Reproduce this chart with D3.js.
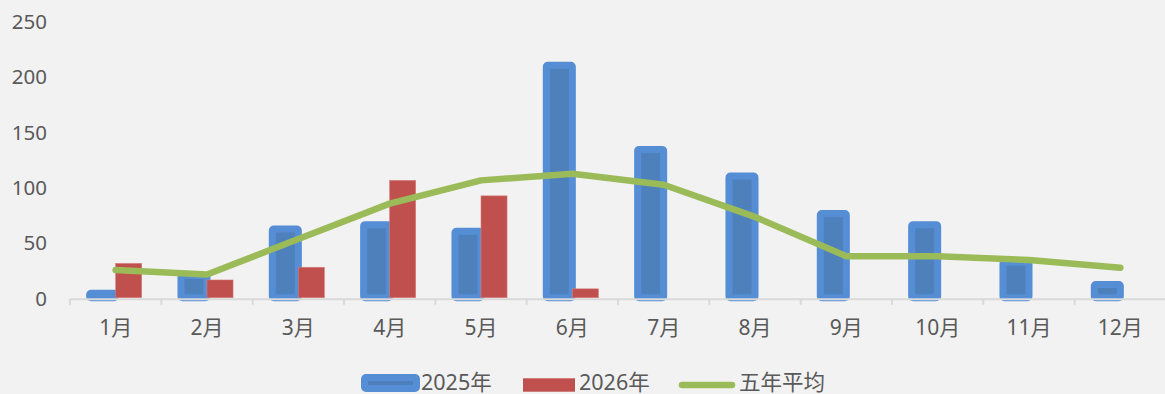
<!DOCTYPE html>
<html><head><meta charset="utf-8">
<script src="https://cdn.jsdelivr.net/npm/d3@7"></script>
<style>
html,body{margin:0;padding:0;background:#f2f2f2;}
svg{display:block;}
text{font-family:"Noto Sans","Noto Sans CJK SC",sans-serif;fill:#595959;}
</style></head>
<body>
<svg id="c" width="1165" height="394"></svg>
<script>
const months = ["1月","2月","3月","4月","5月","6月","7月","8月","9月","10月","11月","12月"];
const y2025 = [4, 20, 62, 66, 60, 210, 134, 110, 76, 66, 32, 12];
const y2026 = [31, 16, 27.5, 106, 92, 8, null, null, null, null, null, null];
const avg5 = [25, 21, 53, 85, 106, 112, 102, 73, 37.5, 37.5, 34, 27];
const yTicks = [0, 50, 100, 150, 200, 250];
const seriesNames = ["2025年", "2026年", "五年平均"];

const FONT = '"Noto Sans","Noto Sans CJK SC",sans-serif';
const svg = d3.select("#c");
const x = d3.scaleBand().domain(months).range([70, 1166]).paddingInner(0).paddingOuter(0);
const y = d3.scaleLinear().domain([0, 250]).range([297.7, 21]);
const bw = x.bandwidth();
const barW = bw * 0.285;
const cx = d => x(d) + bw / 2;

// y-axis labels (no line)
const yAxis = d3.axisLeft(y).tickValues(yTicks).tickSize(0).tickPadding(0);
const gy = svg.append("g").attr("transform", "translate(47,0)").call(yAxis);
gy.select(".domain").remove();
gy.selectAll("text").style("font-size", "20.5px").attr("fill", "#595959")
  .attr("font-family", FONT).attr("dy", "0.36em");

// 2025 bars (blue, thick rounded light border)
svg.append("g").selectAll("rect").data(months.map((m, i) => ({m, v: y2025[i]})))
  .join("rect")
  .attr("x", d => cx(d.m) - barW)
  .attr("width", barW)
  .attr("y", d => y(d.v))
  .attr("height", d => y(0) - y(d.v))
  .attr("fill", "#4e80bc")
  .attr("stroke", "#558ed5")
  .attr("stroke-width", 7)
  .attr("stroke-linejoin", "round")
  .attr("rx", 1.5);

// 2026 bars (red)
svg.append("g").selectAll("rect").data(months.map((m, i) => ({m, v: y2026[i]})).filter(d => d.v != null))
  .join("rect")
  .attr("x", d => cx(d.m))
  .attr("width", barW)
  .attr("y", d => y(d.v))
  .attr("height", d => y(0) - y(d.v))
  .attr("fill", "#c0504d")
  .attr("stroke", "#d27e7c")
  .attr("stroke-width", 0.6);

// x axis
const xAxis = d3.axisBottom(x).tickSize(0).tickPadding(21);
const gx = svg.append("g").attr("transform", `translate(0,${y(0) + 1})`).call(xAxis);
gx.select(".domain").attr("stroke", "#d9d9d9").attr("stroke-width", 2);
gx.selectAll("text").style("font-size", "21px").attr("fill", "#595959")
  .attr("font-family", FONT);
// tick marks at category boundaries
const bounds = months.map(m => x(m)).concat([x.range()[1]]);
svg.append("g").selectAll("line").data(bounds).join("line")
  .attr("x1", d => d).attr("x2", d => d)
  .attr("y1", y(0) + 1).attr("y2", y(0) + 7)
  .attr("stroke", "#d9d9d9").attr("stroke-width", 2);

// five year average line
const line = d3.line().x((d, i) => cx(months[i])).y(d => y(d));
svg.append("path").datum(avg5).attr("d", line)
  .attr("fill", "none").attr("stroke", "#9bbb59").attr("stroke-width", 6.5)
  .attr("stroke-linecap", "round").attr("stroke-linejoin", "round");

// legend
const lg = svg.append("g");
lg.append("rect").attr("x", 364.5).attr("y", 377.5).attr("width", 52).attr("height", 11)
  .attr("fill", "#4e80bc").attr("stroke", "#558ed5").attr("stroke-width", 7)
  .attr("stroke-linejoin", "round").attr("rx", 1.5);
lg.append("text").attr("x", 421).attr("y", 390).style("font-size", "21.5px").text(seriesNames[0]);
lg.append("rect").attr("x", 523).attr("y", 378.3).attr("width", 52).attr("height", 13.4).attr("fill", "#c0504d");
lg.append("text").attr("x", 579).attr("y", 390).style("font-size", "21.5px").text(seriesNames[1]);
lg.append("line").attr("x1", 682).attr("x2", 732).attr("y1", 385).attr("y2", 385)
  .attr("stroke", "#9bbb59").attr("stroke-width", 6.5).attr("stroke-linecap", "round");
lg.append("text").attr("x", 739).attr("y", 390).style("font-size", "21.5px").text(seriesNames[2]);
</script>
</body></html>
